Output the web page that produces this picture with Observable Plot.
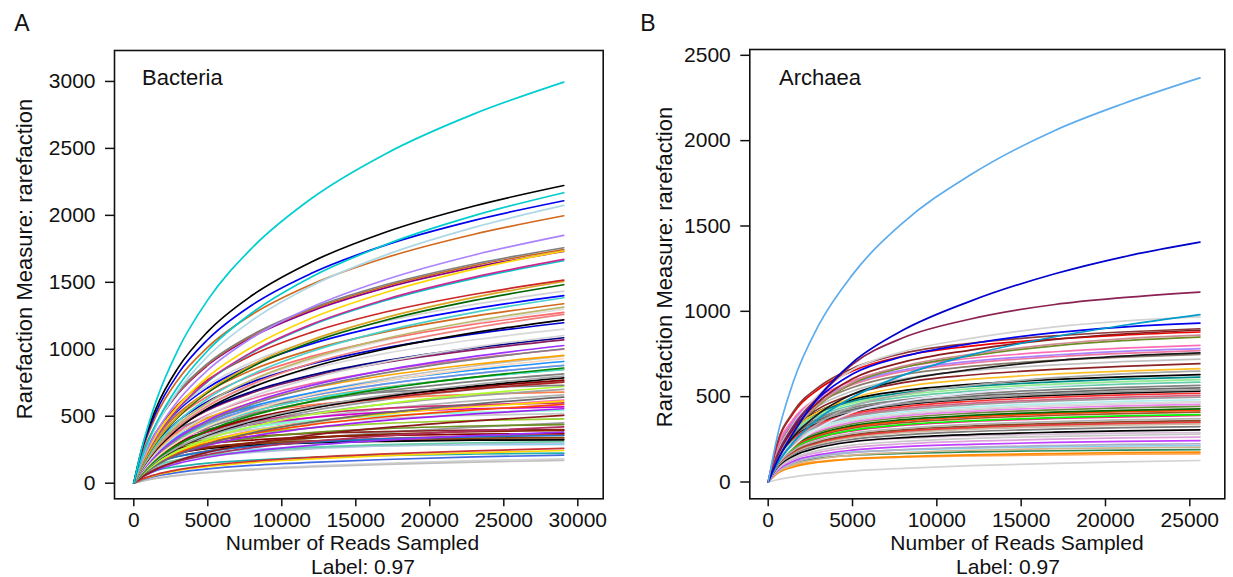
<!DOCTYPE html>
<html><head><meta charset="utf-8">
<script src="https://cdn.jsdelivr.net/npm/d3@7"></script>
<script src="https://cdn.jsdelivr.net/npm/@observablehq/plot@0.6"></script>
<style>
body{margin:0;background:#fff;font-family:"Liberation Sans",Arial,sans-serif;}
#wrap{position:relative;width:1233px;height:577px;overflow:hidden;background:#fff}
.panel{position:absolute;top:0}
.lbl{position:absolute;font-size:22px;line-height:18px;color:#111;white-space:nowrap;transform:translate(-50%,-50%)}
.left{transform:translate(0,-50%)}
.rot{transform:translate(-50%,-50%) rotate(-90deg)}
</style></head><body><div id="wrap"></div>
<script>
// ---------- Panel A : Bacteria ----------
const xsA = [0, 500, 1500, 3000, 5000, 8000, 12000, 17000, 23000, 29050];
const xTicksA = [0, 5000, 10000, 15000, 20000, 25000, 30000];
const yTicksA = [0, 500, 1000, 1500, 2000, 2500, 3000];
const curvesA = [
[0,108,251,388,509,631,743,843,931,1000],
[0,92,213,330,433,536,632,717,791,850],
[0,67,156,241,316,391,461,523,577,620],
[0,77,194,317,434,558,675,780,875,950],
[0,95,221,341,448,555,654,742,819,880],
[0,62,155,254,347,446,540,624,700,760],
[0,71,166,256,336,416,490,556,614,660],
[0,99,218,291,348,400,447,484,507,520],
[0,49,113,175,229,284,334,379,419,450],
[0,124,289,446,585,726,854,969,1071,1150],
[0,105,265,434,594,763,923,1067,1197,1300],
[0,112,224,280,320,348,372,386,396,400],
[0,68,151,202,241,277,310,335,351,360],
[0,92,185,231,264,287,307,318,327,330],
[0,15,37,61,83,107,129,149,168,182],
[0,14,35,57,78,100,121,140,157,170],
[0,23,53,81,107,133,156,177,196,210],
[0,43,94,125,150,172,193,208,218,224],
[0,26,61,95,124,154,181,206,227,244],
[0,28,65,101,132,164,193,219,242,260],
[0,81,162,203,232,252,270,280,287,290],
[0,57,126,167,200,230,257,278,292,299],
[0,59,130,174,208,239,267,288,302,310],
[0,91,181,227,259,282,301,313,321,324],
[0,95,190,238,272,296,316,328,337,340],
[0,68,150,199,239,274,306,331,347,356],
[0,104,207,259,296,322,344,357,366,370],
[0,41,96,148,194,240,283,321,355,381],
[0,75,165,221,264,303,339,366,384,394],
[0,45,105,163,214,265,312,354,391,420],
[0,83,184,245,293,337,377,407,427,438],
[0,91,202,269,322,370,413,446,468,480],
[0,41,103,169,231,297,359,415,466,506],
[0,103,228,304,364,418,467,505,529,543],
[0,60,140,216,283,351,413,469,518,556],
[0,108,239,319,382,439,490,530,556,570],
[0,64,148,228,299,371,437,496,547,588],
[0,114,252,336,402,462,516,558,585,600],
[0,66,154,238,312,387,455,517,571,613],
[0,52,131,214,293,377,456,527,591,642],
[0,129,286,381,456,524,585,632,663,680],
[0,76,176,272,356,442,520,590,652,700],
[0,58,147,241,330,424,513,593,665,722],
[0,139,307,409,489,562,628,679,712,730],
[0,82,190,293,384,476,561,636,703,755],
[0,83,193,299,392,486,572,649,717,770],
[0,64,161,263,360,462,559,646,725,787],
[0,65,163,267,366,470,568,657,737,800],
[0,88,205,317,416,516,607,689,761,817],
[0,91,213,329,431,534,629,714,789,847],
[0,70,175,287,393,505,611,706,792,860],
[0,95,221,341,447,555,653,741,818,879],
[0,98,228,353,463,574,675,766,846,909],
[0,75,190,311,425,547,661,764,857,931],
[0,103,239,370,486,602,709,804,888,954],
[0,81,205,335,459,589,713,824,925,1004],
[0,83,210,343,470,603,730,844,947,1028],
[0,116,269,415,545,675,795,902,996,1070],
[0,117,273,421,553,685,807,915,1011,1086],
[0,89,225,368,504,647,783,906,1016,1103],
[0,129,301,465,610,756,890,1010,1115,1198],
[0,99,249,407,558,716,866,1002,1124,1220],
[0,102,257,421,576,740,895,1034,1160,1260],
[0,138,320,495,649,805,947,1075,1187,1275],
[0,107,268,439,601,772,934,1080,1211,1315],
[0,145,336,520,682,846,996,1130,1248,1340],
[0,112,283,463,633,813,983,1137,1276,1385],
[0,151,351,543,713,883,1040,1180,1303,1400],
[0,155,360,556,730,905,1065,1209,1335,1434],
[0,120,302,495,677,870,1052,1217,1365,1482],
[0,122,307,503,688,884,1069,1236,1387,1506],
[0,164,381,588,772,957,1126,1278,1411,1516],
[0,135,339,555,759,975,1179,1364,1530,1661],
[0,135,341,558,764,981,1186,1372,1539,1671],
[0,187,434,671,881,1092,1285,1458,1611,1730],
[0,141,354,579,793,1018,1232,1424,1598,1735],
[0,188,438,677,888,1101,1297,1471,1625,1745],
[0,190,441,682,895,1109,1306,1482,1637,1758],
[0,150,377,618,845,1086,1314,1519,1704,1850],
[0,216,501,775,1016,1260,1484,1683,1859,1997],
[0,168,423,693,948,1217,1473,1703,1910,2074],
[0,228,529,818,1073,1331,1567,1778,1963,2109],
[0,176,442,724,991,1273,1540,1781,1998,2169],
[0,240,558,863,1132,1403,1652,1874,2070,2223],
[0,243,611,1000,1369,1758,2126,2459,2758,2995]
];
const colorsA = [
"#EE6AA7","#FF8247","#FF69B4","#BEBEBE","#BEBEBE","#999999","#B5B5B5","#C8C8C8","#999999","#D9D9D9",
"#E0E0E0","#8B2323","#CD5555","#8B4C39","#D3D3D3","#C0C0C0","#4169E1","#20B2AA","#FFD700","#CD3333",
"#87CEFA","#B0C4DE","#66CDAA","#000000","#8B4513","#1874CD","#8B0000","#9B30FF","#8B2500","#B03060",
"#6B8E23","#9ACD32","#8B1A1A","#7FFFD4","#A020F0","#CD00CD","#FF4500","#CD3278","#FFD700","#696969",
"#FF7F50","#A0A0A0","#ADFF2F","#7F7F7F","#B22222","#8B0000","#000000","#A9A9A9","#808080","#40E0D0",
"#008B00","#6495ED","#1E90FF","#FFDAB9","#FFA500","#808080","#9B30FF","#8B1C62","#000080","#D3D3D3",
"#0000CD","#000000","#F08080","#FF6A6A","#BDB76B","#D2691E","#48D1CC","#0000FF","#D3D3D3","#006400",
"#DAA520","#CD2626","#00C5CD","#CD2990","#8B008B","#FFD700","#CD661D","#808080","#AB82FF","#D2691E",
"#ADD8E6","#0000EE","#00CDCD","#000000","#00CED1"
];

// ---------- Panel B : Archaea ----------
const xsB = [0, 500, 1500, 3000, 5000, 8000, 12000, 17000, 21000, 25600];
const xTicksB = [0, 5000, 10000, 15000, 20000, 25000];
const yTicksB = [0, 500, 1000, 1500, 2000, 2500];
const curvesB = [
[0,12,30,48,64,80,96,109,118,126],
[0,53,96,120,135,145,153,159,163,165],
[0,46,88,116,135,149,159,167,172,175],
[0,61,110,139,156,167,177,183,187,190],
[0,53,102,135,157,173,186,195,200,204],
[0,68,124,156,175,188,199,207,211,214],
[0,58,112,148,172,190,204,214,220,224],
[0,63,122,160,187,207,221,232,238,243],
[0,68,132,174,203,224,239,251,258,263],
[0,73,140,185,216,238,255,267,274,280],
[0,93,168,212,238,255,270,280,286,290],
[0,80,153,202,236,260,278,292,300,306],
[0,85,163,215,250,276,296,310,319,325],
[0,88,170,224,262,289,309,325,333,340],
[0,91,175,231,270,298,319,334,343,350],
[0,91,176,232,270,298,319,335,344,351],
[0,94,180,238,277,306,328,344,353,360],
[0,96,186,245,286,315,338,354,364,371],
[0,101,195,257,300,332,355,372,382,390],
[0,103,198,261,304,336,359,377,387,395],
[0,106,205,270,315,348,372,391,401,409],
[0,109,210,277,323,357,382,401,412,420],
[0,112,215,283,330,365,390,410,420,429],
[0,115,222,292,341,377,403,423,434,443],
[0,118,228,300,350,387,414,435,446,455],
[0,122,234,309,360,398,426,447,459,468],
[0,122,235,310,362,400,428,449,461,470],
[0,125,241,318,371,410,439,460,472,482],
[0,129,249,328,383,422,452,475,487,497],
[0,132,254,335,390,431,461,484,497,507],
[0,135,260,343,400,442,473,497,510,520],
[0,139,267,352,410,453,485,509,522,533],
[0,140,270,356,416,459,491,516,529,540],
[0,144,276,364,425,469,502,527,541,552],
[0,147,283,374,436,481,515,541,555,566],
[0,152,293,386,450,497,532,559,573,585],
[0,96,210,318,408,474,522,564,585,600],
[0,156,300,396,462,510,546,573,588,600],
[0,160,308,406,474,523,560,587,603,615],
[0,164,315,415,484,535,572,601,616,629],
[0,104,228,345,442,514,566,611,634,650],
[0,159,305,412,491,558,601,633,650,664],
[0,166,319,430,513,582,627,660,678,693],
[0,173,331,446,533,605,652,686,705,720],
[0,180,344,464,554,628,677,713,732,748],
[0,121,265,401,514,597,658,711,737,756],
[0,185,354,477,570,647,697,734,754,770],
[0,187,359,484,578,656,707,744,765,781],
[0,192,369,497,593,673,725,763,784,801],
[0,136,297,450,577,671,739,798,828,849],
[0,138,301,456,585,679,748,808,839,860],
[0,211,404,545,651,738,796,838,861,879],
[0,142,311,471,605,702,773,836,867,889],
[0,216,413,557,665,754,813,856,879,898],
[0,149,326,493,633,735,810,875,908,931],
[0,155,338,513,658,764,841,909,943,967],
[0,97,234,373,496,626,745,851,917,981],
[0,150,330,500,690,845,955,1040,1080,1113],
[0,115,290,500,700,890,1060,1220,1318,1405],
[0,250,590,920,1215,1520,1800,2060,2215,2368]
];
const colorsB = [
"#D3D3D3","#FFA54F","#FF8C00","#2E8B57","#D2B48C","#87CEEB","#B0B0C8","#BF3EFF","#DDA0DD","#C8C8C8",
"#D8BFD8","#000000","#7A7A7A","#CDB79E","#A8A8A8","#EE3B3B","#8B4726","#B5B5B5","#FF1493","#00FF00",
"#A0522D","#FF4500","#006400","#6E8B3D","#EE82EE","#BEBEBE","#DCDCDC","#AEEEEE","#9E9E9E","#CD6889",
"#FF3030","#000000","#999999","#696969","#808080","#66CDAA","#E6E6FA","#90EE90","#008B8B","#000000",
"#A9A9A9","#FFC125","#8B2323","#C0C0C0","#8B7D6B","#1A1A1A","#EE799F","#AB82FF","#FF6EB4","#6B8E23",
"#CD8C95","#EE0000","#8B1A1A","#8B3A3A","#0000EE","#D3D3D3","#009ACD","#8B2252","#0000CD","#5CACEE"
];

function rows(xs, curves, colors) {
  const out = [];
  curves.forEach((vals, i) => vals.forEach((v, j) => out.push({c: i, x: xs[j], y: v, color: colors[i]})));
  return out;
}

const fmt = d3.format("d");
const baseStyle = {fontFamily: "'Liberation Sans', Arial, sans-serif", fontSize: "21px", color: "#111", background: "transparent", overflow: "visible"};

function panel(opts) {
  return Plot.plot({
    width: opts.width, height: 577,
    marginTop: opts.mt, marginRight: opts.mr, marginBottom: opts.mb, marginLeft: opts.ml,
    x: {domain: opts.xd}, y: {domain: opts.yd},
    color: {type: "identity"},
    style: baseStyle,
    marks: [
      Plot.line(rows(opts.xs, opts.curves, opts.colors), {x: "x", y: "y", z: "c", stroke: "color", curve: "monotone-x", strokeWidth: 1.7}),
      Plot.frame({stroke: "#111", strokeWidth: 1.6}),
      Plot.axisX({ticks: opts.xt, tickSize: 8, tickPadding: 5, strokeWidth: 1.5, label: null, tickFormat: fmt}),
      Plot.axisY({ticks: opts.yt, tickSize: 9, tickPadding: 10, strokeWidth: 1.5, label: null, tickFormat: fmt})
    ]
  });
}

const wrap = document.getElementById("wrap");
const pA = panel({width: 620, mt: 50, mr: 17.3, mb: 78.7, ml: 114, xd: [-1304, 31716], yd: [-116.5, 3231],
  xs: xsA, curves: curvesA, colors: colorsA, xt: xTicksA, yt: yTicksA});
pA.classList.add("panel"); pA.style.left = "0px";
wrap.appendChild(pA);

const pB = panel({width: 613, mt: 49, mr: 8.7, mb: 78.7, ml: 129.3, xd: [-1091, 27075], yd: [-98.4, 2534],
  xs: xsB, curves: curvesB, colors: colorsB, xt: xTicksB, yt: yTicksB});
pB.classList.add("panel"); pB.style.left = "620px";
wrap.appendChild(pB);

function label(text, x, y, cls, size) {
  const d = document.createElement("div");
  d.className = "lbl" + (cls ? " " + cls : "");
  d.textContent = text;
  d.style.left = x + "px"; d.style.top = y + "px";
  if (size) d.style.fontSize = size + "px";
  wrap.appendChild(d);
}
label("A", 22, 23, "", 23);
label("B", 648, 23, "", 23);
label("Bacteria", 142, 78, "left", 22);
label("Archaea", 779, 78, "left", 22);
label("Rarefaction Measure: rarefaction", 25, 259, "rot", 22);
label("Rarefaction Measure: rarefaction", 665, 267, "rot", 22);
label("Number of Reads Sampled", 352.5, 543, "", 21);
label("Label: 0.97", 363, 566.5, "", 21);
label("Number of Reads Sampled", 1017, 543, "", 21);
label("Label: 0.97", 1008, 566.5, "", 21);
</script></body></html>
